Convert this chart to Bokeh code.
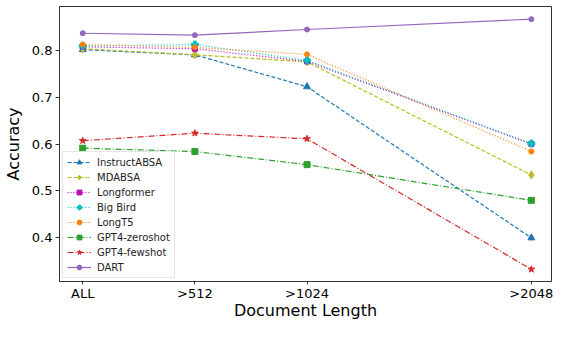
from bokeh.plotting import figure
from bokeh.models import FixedTicker, Range1d, Legend, LegendItem
from bokeh.embed import file_html
from bokeh.resources import INLINE

doc_length = [0, 512, 1024, 2048]
tick_labels = ["ALL", ">512", ">1024", ">2048"]

instructabsa = [0.801, 0.790, 0.722, 0.400]
mdabsa = [0.803, 0.790, 0.775, 0.534]
longformer = [0.807, 0.803, 0.776, 0.600]
bigbird = [0.809, 0.812, 0.778, 0.601]
longt5 = [0.812, 0.806, 0.791, 0.584]
gpt4_zeroshot = [0.591, 0.584, 0.556, 0.480]
gpt4_fewshot = [0.607, 0.623, 0.611, 0.333]
dart = [0.836, 0.832, 0.844, 0.866]

FONT = "DejaVu Sans"

p = figure(width=553, height=322, output_backend="svg", toolbar_location=None,
           x_range=Range1d(-106, 2140), y_range=Range1d(0.307, 0.893),
           min_border_left=45, min_border_right=2, min_border_top=6, min_border_bottom=0)

series = [
    ("InstructABSA", instructabsa, "#1f77b4", "4 2", "triangle", 7),
    ("MDABSA", mdabsa, "#bcbd22", "4 2", "diamond", 8),
    ("Longformer", longformer, "#bf00bf", "1 2", "square", 5),
    ("Big Bird", bigbird, "#00bfbf", "1 2", "plus", 7),
    ("LongT5", longt5, "#ff7f0e", "1 2", "circle", 5),
    ("GPT4-zeroshot", gpt4_zeroshot, "#2ca02c", "6 2 1 2", "square", 6),
    ("GPT4-fewshot", gpt4_fewshot, "#d62728", "6 2 1 2", "star", 7),
    ("DART", dart, "#9467bd", "solid", "circle", 5),
]

items = []
for name, ys, color, dash, marker, size in series:
    r1 = p.line(doc_length, ys, line_color=color, line_dash=dash, line_width=1.2)
    r2 = p.scatter(doc_length, ys, marker=marker, size=size, fill_color=color, line_color=color)
    items.append(LegendItem(label=name, renderers=[r1, r2]))

legend = Legend(items=items, location="bottom_left", label_text_font=FONT,
                label_text_font_size="10px", label_height=12, glyph_height=12,
                glyph_width=24, spacing=3, padding=4, margin=3,
                label_standoff=6,
                border_line_color="#cccccc", background_fill_alpha=0.8,
                label_text_color="#222222")
p.add_layout(legend)

p.xaxis.ticker = FixedTicker(ticks=doc_length)
p.xaxis.major_label_overrides = {x: t for x, t in zip(doc_length, tick_labels)}
p.yaxis.ticker = FixedTicker(ticks=[0.4, 0.5, 0.6, 0.7, 0.8])

p.xaxis.axis_label = "Document Length"
p.yaxis.axis_label = "Accuracy"
for ax in (p.xaxis[0], p.yaxis[0]):
    ax.axis_label_text_font = FONT
    ax.axis_label_text_font_size = "16px"
    ax.axis_label_text_font_style = "normal"
    ax.major_label_text_font = FONT
    ax.major_label_text_font_size = "13px"
    ax.major_label_text_color = "black"
    ax.axis_label_text_color = "black"
    ax.minor_tick_line_color = None
    ax.major_tick_out = 4
    ax.major_tick_in = 0
    ax.axis_line_color = "#333333"
    ax.major_tick_line_color = "#333333"
p.xaxis.major_tick_out = 3
p.xaxis.axis_label_standoff = -3
p.xaxis.major_label_standoff = 1
p.yaxis.axis_label_standoff = 6
p.yaxis.major_label_standoff = 3

p.xgrid.grid_line_color = None
p.ygrid.grid_line_color = None
p.outline_line_color = "#333333"

open("out.html", "w").write(file_html(p, INLINE))
